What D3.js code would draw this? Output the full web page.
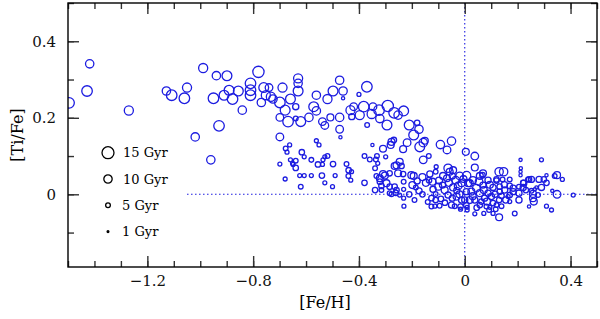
<!DOCTYPE html>
<html>
<head>
<meta charset="utf-8">
<script src="https://cdn.jsdelivr.net/npm/d3@7"></script>
<style>
	body { margin: 0; background: #fff; }
	svg { display: block; }
	.tick text { font-family: 'DejaVu Serif', serif; font-size: 15px; fill: #111; }
	.tick line { stroke: #333; stroke-width: 1.4; }
</style>
</head>
<body>
<div id="graph"></div>
<script>
// [Fe/H], [Ti/Fe], age (Gyr)
const starsMetalPoor = [
	[-1.496, 0.239, 13], [-1.418, 0.341, 10], [-1.428, 0.270, 13], [-1.270, 0.219, 11],
	[-1.128, 0.270, 10], [-1.108, 0.259, 13], [-1.050, 0.279, 11], [-1.060, 0.251, 13],
	[-1.019, 0.150, 10], [-0.989, 0.330, 11], [-0.960, 0.090, 10], [-0.950, 0.251, 13],
	[-0.939, 0.310, 10], [-0.929, 0.179, 13], [-0.910, 0.259, 12], [-0.899, 0.310, 12],
	[-0.891, 0.272, 12], [-0.878, 0.249, 13], [-0.856, 0.270, 12], [-0.841, 0.220, 10],
	[-0.810, 0.290, 13], [-0.810, 0.272, 13], [-0.810, 0.259, 13], [-0.780, 0.320, 14],
	[-0.769, 0.240, 10], [-0.760, 0.279, 12], [-0.740, 0.279, 9], [-0.752, 0.259, 11],
	[-0.733, 0.255, 11], [-0.725, 0.249, 10], [-0.699, 0.240, 13], [-0.689, 0.279, 11],
	[-0.659, 0.249, 12], [-0.630, 0.303, 11], [-0.630, 0.290, 10], [-0.630, 0.270, 12],
	[-0.639, 0.229, 7], [-0.679, 0.220, 12], [-0.699, 0.201, 9], [-0.668, 0.190, 13],
	[-0.639, 0.198, 5], [-0.620, 0.190, 12], [-0.589, 0.201, 10], [-0.571, 0.229, 12],
	[-0.561, 0.259, 10], [-0.561, 0.218, 10], [-0.538, 0.190, 9], [-0.529, 0.180, 9],
	[-0.519, 0.249, 11], [-0.508, 0.201, 8], [-0.498, 0.270, 12], [-0.473, 0.298, 10],
	[-0.473, 0.201, 10], [-0.473, 0.170, 9], [-0.470, 0.149, 3], [-0.699, 0.150, 9],
	[-0.677, 0.120, 5], [-0.662, 0.129, 4], [-0.672, 0.110, 4], [-0.561, 0.140, 4],
	[-0.551, 0.129, 4]
];

const starsHighAlpha = [
	[-0.460, 0.270, 10], [-0.460, 0.251, 3], [-0.400, 0.261, 4], [-0.370, 0.281, 13],
	[-0.432, 0.220, 11], [-0.420, 0.229, 9], [-0.427, 0.203, 7], [-0.397, 0.207, 11],
	[-0.382, 0.229, 13], [-0.369, 0.181, 5], [-0.347, 0.229, 9], [-0.352, 0.210, 11],
	[-0.324, 0.220, 13], [-0.321, 0.198, 10], [-0.291, 0.231, 14], [-0.294, 0.181, 12],
	[-0.267, 0.213, 13], [-0.252, 0.207, 10], [-0.231, 0.218, 12], [-0.210, 0.181, 12],
	[-0.180, 0.187, 6], [-0.173, 0.170, 10], [-0.193, 0.155, 12], [-0.218, 0.135, 9],
	[-0.233, 0.118, 8], [-0.170, 0.124, 12], [-0.157, 0.135, 10], [-0.151, 0.140, 8],
	[-0.277, 0.137, 8], [-0.268, 0.142, 6], [-0.280, 0.129, 8], [-0.309, 0.119, 8],
	[-0.349, 0.129, 3], [-0.092, 0.130, 10], [-0.050, 0.139, 10], [-0.067, 0.116, 9],
	[0.004, 0.111, 8]
];

const starsMidLow = [
	[-0.699, 0.079, 4], [-0.659, 0.090, 4], [-0.649, 0.078, 4], [-0.639, 0.069, 6],
	[-0.679, 0.040, 4], [-0.620, 0.020, 5], [-0.616, 0.110, 6], [-0.607, 0.098, 4],
	[-0.639, 0.088, 5], [-0.580, 0.090, 5], [-0.555, 0.078, 6], [-0.536, 0.090, 4],
	[-0.529, 0.098, 4], [-0.519, 0.100, 5], [-0.538, 0.078, 4], [-0.498, 0.079, 6],
	[-0.447, 0.079, 5], [-0.439, 0.063, 6], [-0.428, 0.059, 4], [-0.440, 0.048, 5],
	[-0.540, 0.049, 6], [-0.490, 0.049, 4], [-0.529, 0.030, 4], [-0.500, 0.020, 4],
	[-0.624, 0.049, 4], [-0.607, 0.049, 4], [-0.580, 0.049, 4], [-0.651, 0.081, 4],
	[-0.431, 0.037, 4], [-0.379, 0.100, 5], [-0.359, 0.091, 5], [-0.336, 0.091, 5],
	[-0.332, 0.100, 5], [-0.329, 0.081, 4], [-0.299, 0.098, 4], [-0.379, 0.030, 6],
	[-0.339, 0.068, 5], [-0.334, 0.048, 5], [-0.321, 0.042, 8], [-0.302, 0.049, 8],
	[-0.284, 0.055, 6], [-0.258, 0.076, 8], [-0.252, 0.055, 8], [-0.296, 0.029, 8],
	[-0.284, 0.020, 6], [-0.265, 0.020, 6], [-0.315, 0.011, 5], [-0.258, 0.011, 6],
	[-0.284, 0.003, 5], [-0.339, 0.011, 6], [-0.309, 0.053, 8], [-0.265, 0.074, 8],
	[-0.315, 0.022, 6], [-0.277, 0.000, 5], [-0.261, 0.004, 6], [-0.321, 0.033, 6]
];

const starsSubSolar = [
	[-0.157, 0.090, 9], [-0.136, 0.100, 5], [-0.246, 0.085, 8], [-0.239, 0.074, 6],
	[-0.233, 0.053, 6], [-0.231, 0.033, 5], [-0.231, 0.013, 4], [-0.246, -0.002, 4],
	[-0.231, -0.010, 4], [-0.230, -0.031, 4], [-0.202, 0.050, 8], [-0.193, 0.048, 8],
	[-0.198, 0.024, 8], [-0.185, 0.018, 5], [-0.173, 0.009, 7], [-0.147, 0.030, 8],
	[-0.135, 0.037, 6], [-0.122, 0.033, 8], [-0.120, 0.013, 7], [-0.110, 0.001, 5],
	[-0.126, -0.010, 6], [-0.110, -0.015, 6], [-0.126, -0.032, 5], [-0.113, -0.031, 4],
	[-0.097, 0.036, 8], [-0.082, 0.048, 8], [-0.084, 0.024, 7], [-0.076, 0.011, 8],
	[-0.063, 0.068, 10], [-0.057, 0.059, 8], [-0.067, 0.042, 8], [-0.047, 0.048, 7],
	[-0.034, 0.037, 9], [-0.025, 0.022, 9], [-0.012, 0.029, 8], [-0.044, 0.018, 8],
	[-0.063, -0.002, 7], [-0.047, -0.010, 7], [-0.031, -0.006, 8], [-0.012, -0.015, 7],
	[-0.050, -0.028, 7], [-0.038, -0.031, 5], [-0.016, -0.032, 6], [0.000, -0.015, 7],
	[0.009, -0.034, 4], [0.013, 0.029, 8], [0.006, 0.007, 7], [0.007, 0.049, 10],
	[-0.132, 0.053, 7], [-0.110, 0.059, 5], [-0.108, 0.072, 4], [-0.044, 0.063, 8],
	[-0.019, 0.048, 9], [-0.016, -0.039, 4], [-0.090, -0.012, 6], [-0.140, -0.020, 5],
	[-0.075, -0.022, 6], [-0.160, 0.000, 6], [-0.180, 0.035, 7], [-0.160, 0.045, 8],
	[-0.100, 0.020, 8], [-0.060, 0.030, 8], [-0.030, 0.010, 7], [-0.005, 0.040, 8],
	[-0.095, -0.030, 5], [-0.020, 0.000, 8], [-0.210, 0.000, 6], [-0.190, -0.015, 5]
];

const starsSuperSolar = [
	[0.038, 0.100, 9], [0.038, 0.070, 8], [0.067, 0.050, 6], [0.130, 0.059, 10],
	[0.147, 0.059, 10], [0.120, 0.039, 6], [0.143, 0.039, 5], [0.211, 0.090, 3],
	[0.211, 0.059, 3], [0.211, 0.050, 3], [0.223, 0.029, 7], [0.239, 0.039, 5],
	[0.205, 0.020, 5], [0.205, 0.003, 7], [0.205, -0.015, 7], [0.130, -0.060, 8],
	[0.189, -0.050, 5], [0.038, -0.051, 4], [0.009, -0.041, 4], [0.072, -0.050, 4],
	[0.092, -0.041, 5], [0.107, -0.050, 4], [0.117, -0.039, 5], [0.019, 0.029, 8],
	[0.031, 0.037, 8], [0.044, 0.016, 9], [0.025, 0.007, 8], [0.057, 0.003, 8],
	[0.072, 0.011, 8], [0.088, 0.003, 7], [0.101, -0.006, 7], [0.084, -0.019, 8],
	[0.107, -0.023, 6], [0.063, -0.019, 6], [0.038, -0.015, 7], [0.019, -0.015, 8],
	[0.006, -0.028, 6], [0.057, -0.028, 6], [0.082, -0.032, 5], [0.130, -0.015, 6],
	[0.139, -0.004, 6], [0.151, 0.011, 7], [0.164, -0.006, 4], [0.170, -0.019, 4],
	[0.183, 0.007, 7], [0.170, 0.022, 6], [0.132, 0.007, 6], [0.107, 0.018, 7],
	[0.069, 0.024, 7], [0.057, 0.048, 8], [0.069, 0.055, 8], [0.054, 0.033, 9],
	[0.088, 0.037, 7], [0.120, 0.036, 6], [0.132, 0.020, 6], [0.120, -0.028, 5],
	[0.095, -0.034, 4], [0.139, -0.031, 5], [0.183, 0.016, 7], [0.170, -0.002, 6],
	[0.155, -0.015, 7], [0.170, 0.039, 5], [0.030, -0.005, 8], [0.095, 0.025, 8],
	[0.115, 0.000, 7], [0.150, 0.025, 7], [0.045, -0.035, 6], [0.075, -0.010, 7]
];

const starsMetalRich = [
	[0.290, 0.090, 4], [0.349, 0.050, 8], [0.369, 0.039, 4], [0.340, 0.048, 5],
	[0.309, 0.050, 3], [0.299, 0.039, 6], [0.281, 0.039, 7], [0.252, 0.039, 7],
	[0.243, 0.039, 6], [0.309, 0.030, 6], [0.290, 0.018, 7], [0.271, 0.018, 3],
	[0.221, 0.030, 6], [0.221, 0.018, 7], [0.231, 0.011, 6], [0.252, 0.009, 5],
	[0.265, 0.013, 3], [0.258, 0.001, 8], [0.258, -0.010, 8], [0.261, -0.019, 8],
	[0.277, -0.002, 5], [0.349, 0.000, 9], [0.331, 0.009, 3], [0.410, -0.002, 4],
	[0.309, -0.031, 4], [0.328, -0.041, 4], [0.243, -0.032, 3], [0.212, 0.068, 3]
];

const legendAges = [15, 10, 5, 1];
const xMajor = [-1.2, -0.8, -0.4, 0, 0.4];
const yMajor = [0, 0.2, 0.4];

const stars = [].concat(starsMetalPoor, starsHighAlpha, starsMidLow,
	starsSubSolar, starsSuperSolar, starsMetalRich);

const width = 600;
const height = 319;
const plotLeft = 68, plotRight = 597, plotTop = 3, plotBottom = 267;
const blue = '#1c1ce0';

const x = d3.scaleLinear().domain([-1.5, 0.5]).range([plotLeft, plotRight]);
const y = d3.scaleLinear().domain([-0.19, 0.5]).range([plotBottom, plotTop]);
const r = d3.scaleLinear().domain([1, 15]).range([0.9, 6]);

const xMinor = d3.range(-15, 6).map(d => d / 10);
const yMinor = d3.range(-1, 6).map(d => d / 10);
const fmt = d => d === 0 ? '0' : d3.format('.1f')(d).replace('-', '\u2212');

const svg = d3.select('#graph')
	.append('svg')
	.attr('width', width)
	.attr('height', height);

svg.append('defs').append('clipPath')
	.attr('id', 'clip')
	.append('rect')
	.attr('x', plotLeft).attr('y', plotTop)
	.attr('width', plotRight - plotLeft).attr('height', plotBottom - plotTop);

// reference lines
svg.append('line')
	.attr('x1', x(-1.05)).attr('x2', plotRight)
	.attr('y1', y(0)).attr('y2', y(0))
	.attr('stroke', blue).attr('stroke-width', 1.1)
	.attr('stroke-dasharray', '1.5,2.5');

svg.append('line')
	.attr('x1', x(0)).attr('x2', x(0))
	.attr('y1', plotTop).attr('y2', plotBottom)
	.attr('stroke', blue).attr('stroke-width', 1.1)
	.attr('stroke-dasharray', '1.5,2.5');

svg.append('g')
	.attr('clip-path', 'url(#clip)')
	.selectAll('circle')
	.data(stars)
	.enter()
	.append('circle')
	.attr('cx', d => x(d[0]))
	.attr('cy', d => y(d[1]))
	.attr('r', d => r(d[2]))
	.attr('fill', 'none')
	.attr('stroke', blue)
	.attr('stroke-width', 1.3);

// axes: minor + major ticks on all four sides, pointing inward
const addAxis = (axis, transform, values, size, labels) => {
	const g = svg.append('g')
		.attr('transform', transform)
		.call(axis.tickValues(values).tickSizeInner(-size).tickSizeOuter(0)
			.tickFormat(labels ? fmt : ''));
	g.select('.domain').remove();
	return g;
};

addAxis(d3.axisBottom(x), `translate(0,${plotBottom})`, xMinor, 6, false);
addAxis(d3.axisBottom(x).tickPadding(8), `translate(0,${plotBottom})`, xMajor, 11, true);
addAxis(d3.axisTop(x), `translate(0,${plotTop})`, xMinor, 6, false);
addAxis(d3.axisTop(x), `translate(0,${plotTop})`, xMajor, 11, false);
addAxis(d3.axisLeft(y), `translate(${plotLeft},0)`, yMinor, 6, false);
addAxis(d3.axisLeft(y).tickPadding(12), `translate(${plotLeft},0)`, yMajor, 11, true);
addAxis(d3.axisRight(y), `translate(${plotRight},0)`, yMinor, 6, false);
addAxis(d3.axisRight(y), `translate(${plotRight},0)`, yMajor, 11, false);

svg.append('rect')
	.attr('x', plotLeft).attr('y', plotTop)
	.attr('width', plotRight - plotLeft).attr('height', plotBottom - plotTop)
	.attr('fill', 'none')
	.attr('stroke', '#000')
	.attr('stroke-width', 1.4);

// axis titles
svg.append('text')
	.attr('x', 325).attr('y', 308)
	.attr('text-anchor', 'middle')
	.style('font-family', 'DejaVu Serif, serif')
	.style('font-size', '16px')
	.text('[Fe/H]');

svg.append('text')
	.attr('transform', `translate(17,${(plotTop + plotBottom) / 2}) rotate(-90)`)
	.attr('text-anchor', 'middle')
	.attr('dy', '0.35em')
	.style('font-family', 'DejaVu Serif, serif')
	.style('font-size', '16px')
	.text('[Ti/Fe]');

// legend
const legend = svg.append('g')
	.selectAll('g')
	.data(legendAges)
	.enter()
	.append('g')
	.attr('transform', (d, i) => `translate(108,${152.7 + i * 26.3})`);

legend.append('circle')
	.attr('r', d => r(d))
	.attr('fill', d => d === 1 ? '#000' : 'none')
	.attr('stroke', '#000')
	.attr('stroke-width', 1.3);

legend.append('text')
	.attr('x', d => d >= 10 ? 15 : 14)
	.attr('dy', '0.35em')
	.style('font-family', 'DejaVu Serif, serif')
	.style('font-size', '13px')
	.text(d => `${d} Gyr`);
</script>
</body>
</html>
